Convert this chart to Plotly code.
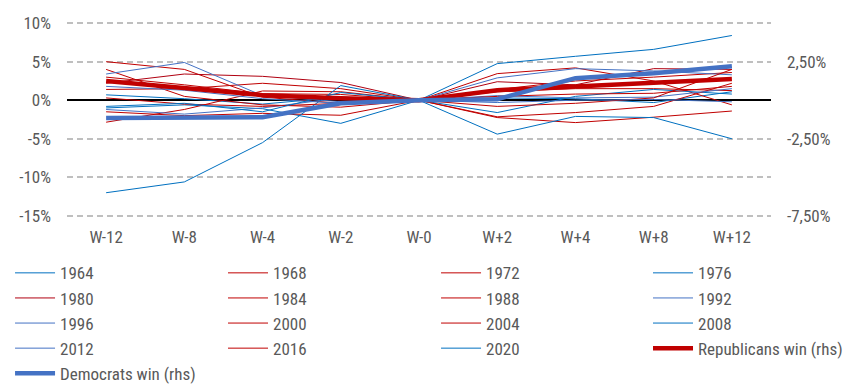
import plotly.graph_objects as go

weeks = ["W-12", "W-8", "W-4", "W-2", "W-0", "W+2", "W+4", "W+8", "W+12"]

s1964 = [0.7, 0.2, -0.5, 0.4, 0, 0.3, 0.2, -0.3, 1.1]
s1968 = [5.0, 4.0, 0.4, -0.4, 0, 3.45, 4.2, 2.5, -0.6]
s1972 = [4.0, 0.5, -0.6, -0.9, 0, 1.1, 1.5, 1.5, 1.25]
s1976 = [-1.0, -0.6, -1.1, -3.0, 0, -1.6, 0.5, 1.4, 0.8]
s1980 = [2.2, 3.4, 3.1, 2.3, 0, 2.4, 2.0, 4.1, 4.0]
s1984 = [1.4, 1.5, 2.2, 1.5, 0, 1.4, 2.5, 3.0, 3.6]
s1988 = [-2.85, -1.2, 1.2, 1.1, 0, -2.15, -1.6, -0.8, 2.2]
s1992 = [3.4, 4.9, 0.6, -0.2, 0, 2.9, 4.1, 3.8, 3.3]
s1996 = [-1.2, -1.8, -1.0, 0.3, 0, 0.6, 0.3, 0.4, 1.5]
s2000 = [-1.5, -2.0, -1.7, -1.95, 0, -2.25, -2.9, -2.2, -1.4]
s2004 = [3.0, 2.0, 0.85, 0.75, 0, -0.8, -0.4, 0.3, 4.0]
s2008 = [-12.0, -10.6, -5.5, 1.9, 0, -4.4, -2.1, -2.25, -5.0]
s2012 = [1.8, 1.3, 0.2, -0.4, 0, -0.3, 0.0, 0.1, -0.2]
s2016 = [0.3, -0.5, -0.8, -0.4, 0, 0.5, 0.8, 0.9, 1.8]
s2020 = [-0.8, -0.4, -1.5, 1.0, 0, 4.75, 5.7, 6.6, 8.4]

rep_win = [1.25, 0.8, 0.33, 0.13, 0, 0.65, 0.9, 1.1, 1.38]
dem_win = [-1.15, -1.15, -1.1, -0.2, 0, 0.07, 1.43, 1.75, 2.2]

left_tickvals = [10, 5, 0, -5, -10, -15]
left_ticktext = ["10%", "5%", "0%", "-5%", "-10%", "-15%"]
right_tickvals = [2.5, -2.5, -7.5]
right_ticktext = ["2,50%", "-2,50%", "-7,50%"]

BLUE = "#0070C0"
BLUE2 = "#4472C4"
RED = "#C00000"

# (name, values, colour, legend column)
series = [
    ("1964", s1964, BLUE, "legend"), ("1968", s1968, RED, "legend2"),
    ("1972", s1972, RED, "legend3"), ("1976", s1976, BLUE, "legend4"),
    ("1980", s1980, "#B00010", "legend"), ("1984", s1984, RED, "legend2"),
    ("1988", s1988, RED, "legend3"), ("1992", s1992, BLUE2, "legend4"),
    ("1996", s1996, BLUE2, "legend"), ("2000", s2000, RED, "legend2"),
    ("2004", s2004, RED, "legend3"), ("2008", s2008, BLUE, "legend4"),
    ("2012", s2012, BLUE2, "legend"), ("2016", s2016, RED, "legend2"),
    ("2020", s2020, BLUE, "legend3"),
]

fig = go.Figure()
for name, vals, col, lg in series:
    fig.add_trace(go.Scatter(x=weeks, y=vals, name=name, mode="lines",
                             line=dict(color=col, width=1), yaxis="y", legend=lg))
fig.add_trace(go.Scatter(x=weeks, y=rep_win, name="Republicans win (rhs)", mode="lines",
                         line=dict(color=RED, width=4.5), yaxis="y2", legend="legend4"))
fig.add_trace(go.Scatter(x=weeks, y=dem_win, name="Democrats win (rhs)", mode="lines",
                         line=dict(color=BLUE2, width=4.5), yaxis="y2", legend="legend"))

FONT = "Roboto Condensed, Liberation Sans, Arial, sans-serif"
GRAY = "#595959"

legend_xs = [-0.0809, 0.2216, 0.5242, 0.8253]
leg_common = dict(orientation="v", y=-0.1964, xanchor="left", yanchor="top",
                  itemwidth=40, tracegroupgap=0, bgcolor="rgba(0,0,0,0)",
                  font=dict(family=FONT, size=17, color=GRAY))

fig.update_layout(
    width=845, height=379,
    margin=dict(l=59, r=82, t=14, b=170, autoexpand=False),
    paper_bgcolor="white", plot_bgcolor="white",
    font=dict(family=FONT, size=17, color=GRAY),
    showlegend=True,
    legend=dict(x=legend_xs[0], **leg_common),
    legend2=dict(x=legend_xs[1], **leg_common),
    legend3=dict(x=legend_xs[2], **leg_common),
    legend4=dict(x=legend_xs[3], **leg_common),
    xaxis=dict(type="category", range=[-0.5, 8.5], showgrid=False, zeroline=False,
               showline=False, ticks="", tickfont=dict(size=17, color=GRAY),
               ticklabelstandoff=8),
    yaxis=dict(range=[-15.15, 10.15], tickvals=left_tickvals, ticktext=left_ticktext,
               showgrid=True, gridcolor="#BFBFBF", gridwidth=1.5, griddash="6px,4px",
               zeroline=True, zerolinecolor="black", zerolinewidth=2,
               showline=False, ticks="", ticklabelstandoff=15,
               tickfont=dict(size=17, color=GRAY)),
    yaxis2=dict(range=[-7.575, 5.075], overlaying="y", side="right",
                tickvals=right_tickvals, ticktext=right_ticktext,
                showgrid=False, zeroline=False, showline=False, ticks="",
                ticklabelstandoff=15, tickfont=dict(size=17, color=GRAY)),
)

fig.write_html("out.html")
